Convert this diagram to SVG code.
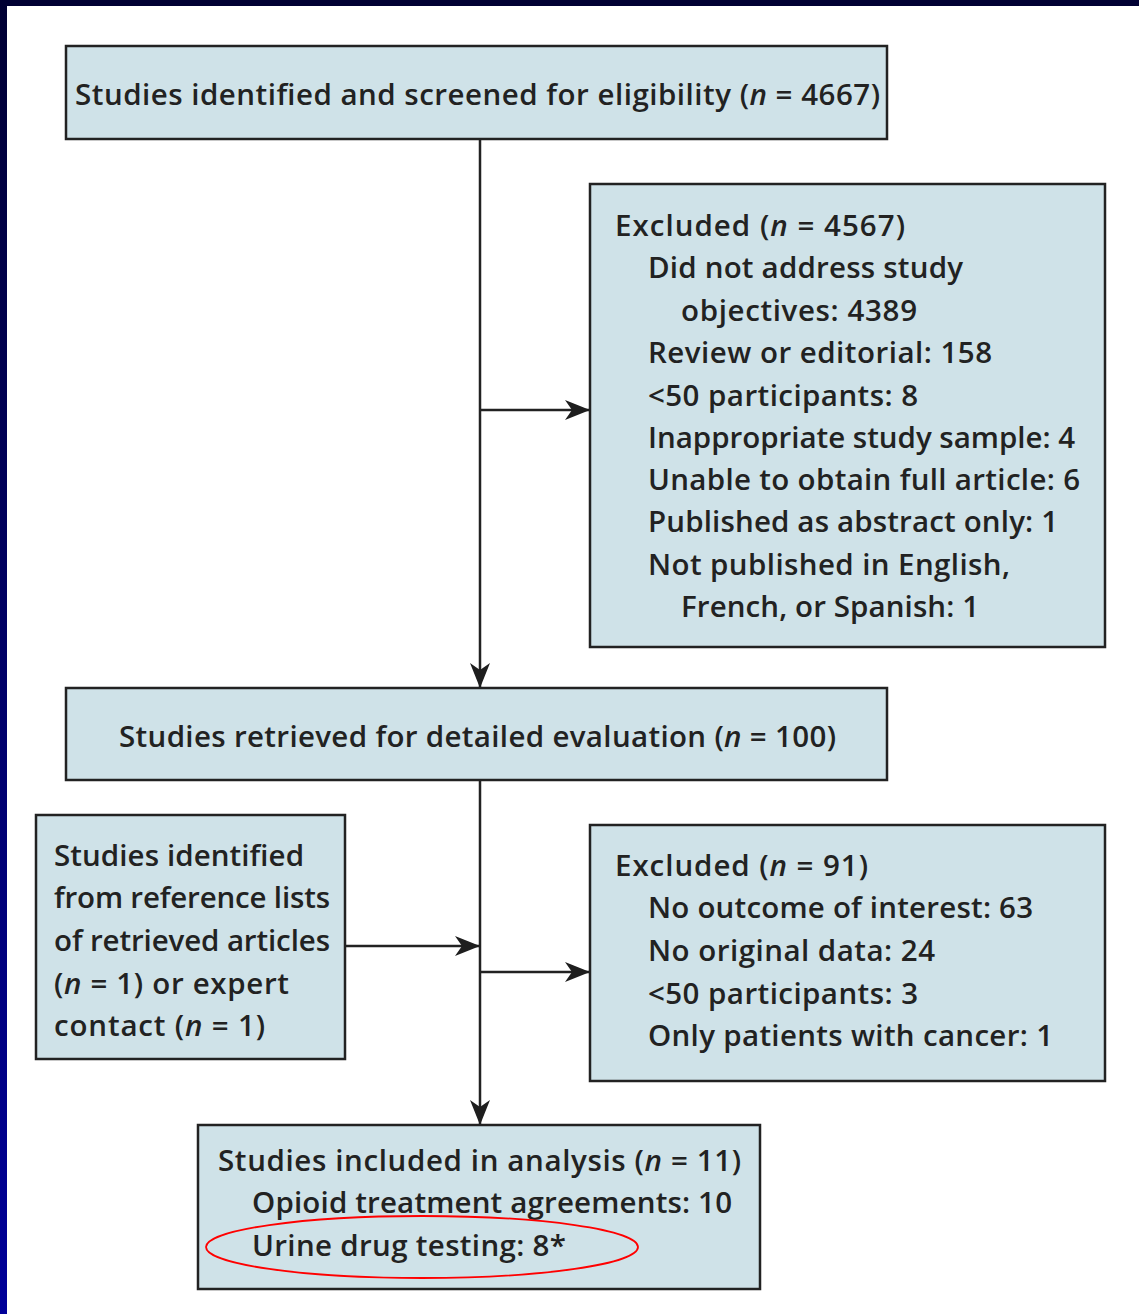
<svg xmlns="http://www.w3.org/2000/svg" width="1139" height="1314" viewBox="0 0 1139 1314">
<style>
.box{fill:#cfe2e8;stroke:#222;stroke-width:2.5}
.t{font-family:"Open Sans","DejaVu Sans",sans-serif;font-size:29.5px;font-weight:600;fill:#222222}
.i{font-style:italic}
.c{stroke:#222;stroke-width:2.5;fill:none}
</style>
<defs>
<linearGradient id="lb" x1="0" y1="0" x2="0" y2="1">
<stop offset="0" stop-color="#000033"/>
<stop offset="1" stop-color="#000099"/>
</linearGradient>
<marker id="ah" markerUnits="userSpaceOnUse" markerWidth="28" markerHeight="22" refX="25" refY="10" orient="auto">
<path d="M0,0 L25,10 L0,20 L7,10 z" fill="#1e1e1e"/>
</marker>
</defs>
<rect x="0" y="0" width="1139" height="1314" fill="#ffffff"/>
<rect x="0" y="0" width="1139" height="6" fill="#000033"/>
<rect x="0" y="0" width="7" height="1314" fill="url(#lb)"/>

<g id="connectors">
<line class="c" x1="480" y1="139" x2="480" y2="688" marker-end="url(#ah)"/>
<line class="c" x1="480" y1="410" x2="590" y2="410" marker-end="url(#ah)"/>
<line class="c" x1="480" y1="780" x2="480" y2="1125" marker-end="url(#ah)"/>
<line class="c" x1="345" y1="946" x2="480" y2="946" marker-end="url(#ah)"/>
<line class="c" x1="480" y1="972" x2="590" y2="972" marker-end="url(#ah)"/>
</g>

<g id="identified">
<rect class="box" x="66" y="46" width="821" height="93"/>
<text class="t" x="75" y="105" textLength="805">Studies identified and screened for eligibility (<tspan class="i">n</tspan> = 4667)</text>
</g>

<g id="excluded1">
<rect class="box" x="590" y="184" width="515" height="463"/>
<text class="t" x="615" y="236" textLength="290">Excluded (<tspan class="i">n</tspan> = 4567)</text>
<text class="t" x="648" y="278" textLength="315">Did not address study</text>
<text class="t" x="681" y="321" textLength="236">objectives: 4389</text>
<text class="t" x="648" y="363" textLength="344">Review or editorial: 158</text>
<text class="t" x="648" y="406" textLength="270">&lt;50 participants: 8</text>
<text class="t" x="648" y="448" textLength="427">Inappropriate study sample: 4</text>
<text class="t" x="648" y="490" textLength="432">Unable to obtain full article: 6</text>
<text class="t" x="648" y="532" textLength="410">Published as abstract only: 1</text>
<text class="t" x="648" y="575" textLength="362">Not published in English,</text>
<text class="t" x="681" y="617" textLength="298">French, or Spanish: 1</text>
</g>

<g id="retrieved">
<rect class="box" x="66" y="688" width="821" height="92"/>
<text class="t" x="119" y="747" textLength="717">Studies retrieved for detailed evaluation (<tspan class="i">n</tspan> = 100)</text>
</g>

<g id="reference">
<rect class="box" x="36" y="815" width="309" height="244"/>
<text class="t" x="54" y="866" textLength="250">Studies identified</text>
<text class="t" x="54" y="908" textLength="276">from reference lists</text>
<text class="t" x="54" y="951" textLength="276">of retrieved articles</text>
<text class="t" x="54" y="994" textLength="235">(<tspan class="i">n</tspan> = 1) or expert</text>
<text class="t" x="54" y="1036" textLength="211">contact (<tspan class="i">n</tspan> = 1)</text>
</g>

<g id="excluded2">
<rect class="box" x="590" y="825" width="515" height="256"/>
<text class="t" x="615" y="876" textLength="253">Excluded (<tspan class="i">n</tspan> = 91)</text>
<text class="t" x="648" y="918" textLength="385">No outcome of interest: 63</text>
<text class="t" x="648" y="961" textLength="287">No original data: 24</text>
<text class="t" x="648" y="1004" textLength="270">&lt;50 participants: 3</text>
<text class="t" x="648" y="1046" textLength="405">Only patients with cancer: 1</text>
</g>

<g id="included">
<rect class="box" x="198" y="1125" width="562" height="164"/>
<text class="t" x="218" y="1171" textLength="523">Studies included in analysis (<tspan class="i">n</tspan> = 11)</text>
<text class="t" x="252" y="1213" textLength="480">Opioid treatment agreements: 10</text>
<text class="t" x="252" y="1256" textLength="314">Urine drug testing: 8*</text>
</g>

<ellipse cx="422" cy="1247" rx="216" ry="31" fill="none" stroke="#ff0000" stroke-width="1.8"/>
</svg>
